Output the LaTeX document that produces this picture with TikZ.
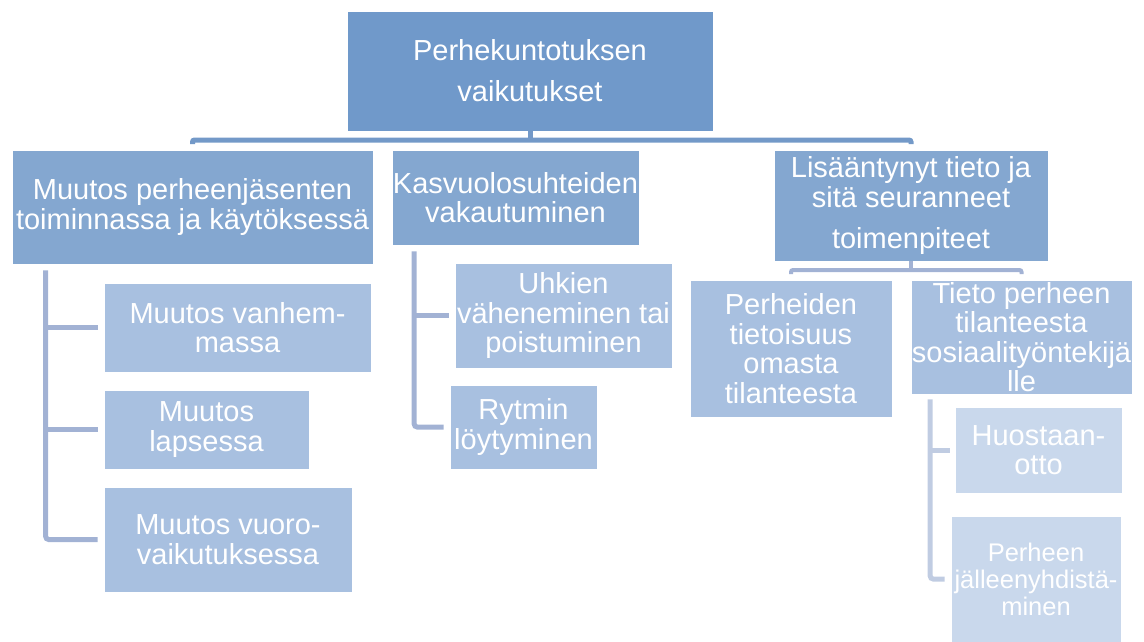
\documentclass[tikz,border=0pt]{standalone}
\usepackage{fontspec}
\setmainfont{Liberation Sans}
\definecolor{cRoot}{HTML}{7099CA}
\definecolor{cOne}{HTML}{84A7D0}
\definecolor{cTwo}{HTML}{A8C0E0}
\definecolor{cThree}{HTML}{C9D8EC}
\definecolor{cBarA}{HTML}{7399C8}
\definecolor{cBarB}{HTML}{A2B2D4}
\definecolor{cBarC}{HTML}{C0CCE2}
\tikzset{
  boxbase/.style={draw=white, line width=0.6pt, text=white, align=center, inner sep=0pt, anchor=center},
  rootbox/.style={boxbase, fill=cRoot, font=\fontsize{29}{41}\selectfont},
  onebox/.style={boxbase, fill=cOne, font=\fontsize{29}{29.5}\selectfont},
  twobox/.style={boxbase, fill=cTwo, font=\fontsize{29}{29.5}\selectfont},
  threebox/.style={boxbase, fill=cThree},
  barA/.style={draw=cBarA, line width=5pt, rounded corners=2pt},
  barB/.style={draw=cBarB, line width=5pt, rounded corners=3pt},
  barC/.style={draw=cBarC, line width=5pt, rounded corners=3pt},
}
\begin{document}
\begin{tikzpicture}[x=1pt, y=-1pt]
\useasboundingbox (0,0) rectangle (1144,641);
% root
\node[rootbox, minimum width=366pt, minimum height=120pt] (R) at (530,71) {Perhekuntotuksen\\vaikutukset};
% level 1
\node[onebox, minimum width=361pt, minimum height=114pt] (A) at (192.5,207) {Muutos perheenjäsenten\\toiminnassa ja käytöksessä};
\node[onebox, minimum width=247pt, minimum height=95pt] (B) at (515.5,197.5) {Kasvuolosuhteiden\\vakautuminen};
\node[onebox, minimum width=274pt, minimum height=111pt] (C) at (911,205.5) {Lisääntynyt tieto ja\\sitä seuranneet\\[12pt]toimenpiteet};
% level 2
\node[twobox, minimum width=267pt, minimum height=89pt] (A1) at (237.5,327.5) {Muutos vanhem-\\massa};
\node[twobox, minimum width=205pt, minimum height=79pt] (A2) at (206.5,429.5) {Muutos\\lapsessa};
\node[twobox, minimum width=248pt, minimum height=105pt] (A3) at (228,539.5) {Muutos vuoro-\\vaikutuksessa};
\node[twobox, minimum width=217pt, minimum height=105pt] (B1) at (563.5,315.5) {Uhkien\\väheneminen tai\\poistuminen};
\node[twobox, minimum width=147pt, minimum height=84pt] (B2) at (523.5,427) {Rytmin\\löytyminen};
\node[twobox, minimum width=202pt, minimum height=137pt] (C1) at (791,348.5) {Perheiden\\tietoisuus\\omasta\\tilanteesta};
\node[twobox, minimum width=221pt, minimum height=114pt] (C2) at (1021.5,337) {Tieto perheen\\tilanteesta\\sosiaalityöntekijä\\lle};
% level 3
\node[threebox, font=\fontsize{29}{29.5}\selectfont, minimum width=167pt, minimum height=86pt] (C21) at (1038.5,450) {Huostaan-\\otto};
\node[threebox, font=\fontsize{25.5}{27}\selectfont, minimum width=170pt, minimum height=126pt] (C22) at (1036,579) {Perheen\\jälleenyhdistä-\\minen};
% top bar
\coordinate (tb) at (0,140);
\draw[barA] (R.south) -- (R.south |- tb);
\draw[barA] ([yshift=-4pt]A.north |- tb) -- (A.north |- tb) -- (C.north |- tb) -- ([yshift=-4pt]C.north |- tb);
% C sub bar
\coordinate (cb) at (0,270);
\draw[barB, line width=4pt] (C.south) -- (C.south |- cb);
\draw[barB, line width=4pt, rounded corners=2pt] ([yshift=-4pt]C1.north |- cb) -- (C1.north |- cb) -- (C2.north |- cb) -- ([yshift=-4pt]C2.north |- cb);
% A children
\coordinate (av) at ([xshift=34pt, yshift=-6pt]A.south west);
\draw[barB] (av) |- ([xshift=-6pt]A3.west);
\draw[barB] (av |- A1.west) -- ([xshift=-6pt]A1.west);
\draw[barB] (av |- A2.west) -- ([xshift=-6pt]A2.west);
% B children
\coordinate (bv) at ([xshift=22.5pt, yshift=-6pt]B.south west);
\draw[barB] (bv) |- ([xshift=-6pt]B2.west);
\draw[barB] (bv |- B1.west) -- ([xshift=-6pt]B1.west);
% C2 children
\coordinate (cv) at ([xshift=19.5pt, yshift=-5pt]C2.south west);
\draw[barC] (cv) |- ([xshift=-6pt]C22.west);
\draw[barC] (cv |- C21.west) -- ([xshift=-5pt]C21.west);
\end{tikzpicture}
\end{document}
